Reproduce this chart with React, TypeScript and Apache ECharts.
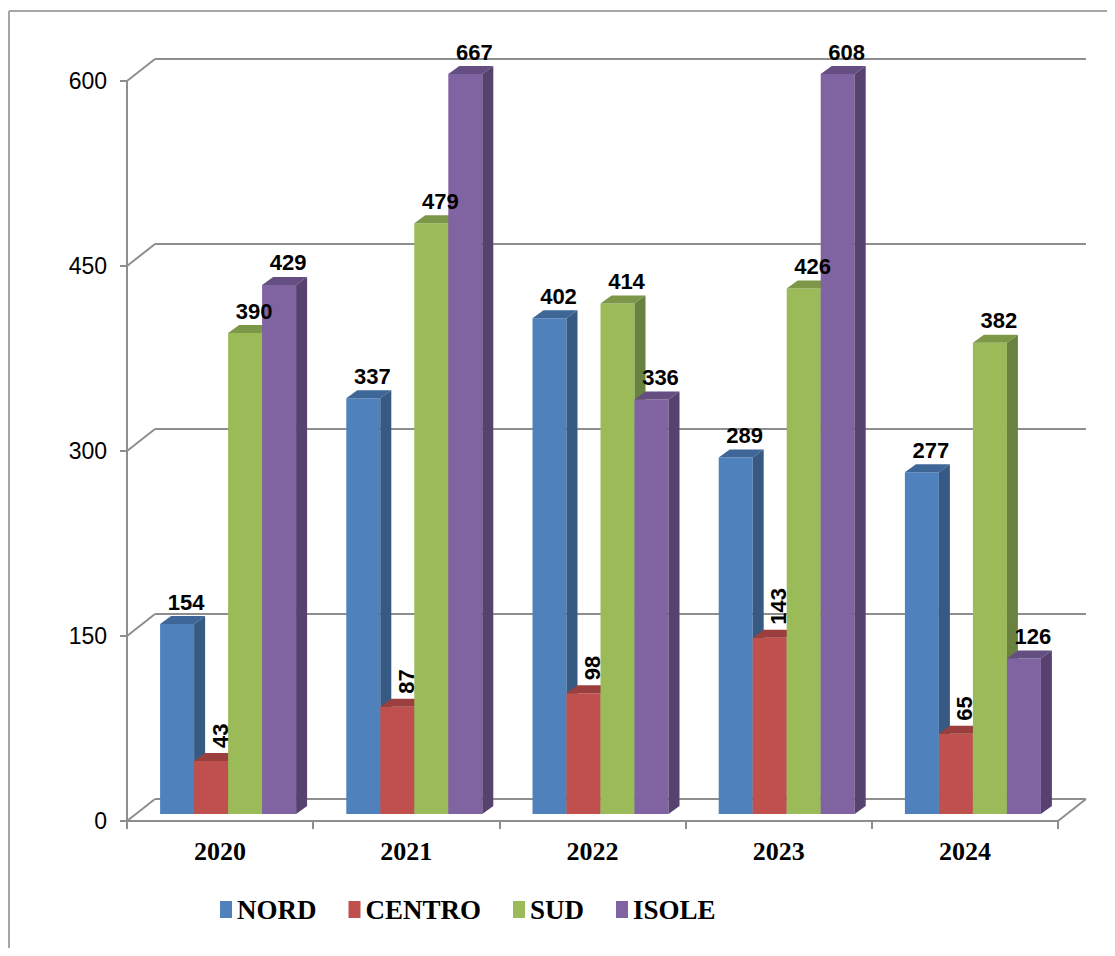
import React, { useEffect, useRef } from "react";
import * as echarts from "echarts";

const categories = ["2020", "2021", "2022", "2023", "2024"];
const seriesNames = ["NORD", "CENTRO", "SUD", "ISOLE"];
const nordValues = [154, 337, 402, 289, 277];
const centroValues = [43, 87, 98, 143, 65];
const sudValues = [390, 479, 414, 426, 382];
const isoleValues = [429, 667, 336, 608, 126];
const yTicks = [0, 150, 300, 450, 600];

const Y_MAX = 600;
const Y_INTERVAL = 150;

const frontColors = ["#4F81BD", "#C0504D", "#9BBB59", "#8064A2"];
const topColors = ["#3E6797", "#9A3F3D", "#7C9747", "#654F82"];
const sideColors = ["#365A84", "#873735", "#6A8240", "#56416F"];
const rotatedLabel = [false, true, false, false];

// 3D geometry (pixels)
const WALL_DX = 28;
const WALL_DY = -22;
const BAR_SHIFT_X = 8;
const BAR_SHIFT_Y = -7;
const BAR_DX = 11;
const BAR_DY = -8;
const BAR_FRAC = 0.1826;
const GRID_COLOR = "#8E8E8E";

export default function App() {
  const ref = useRef<HTMLDivElement>(null);

  useEffect(() => {
    if (!ref.current) return;
    const chart = echarts.init(ref.current, undefined, { renderer: "svg" });
    const allValues = [nordValues, centroValues, sudValues, isoleValues];

    const makeBarRender = (si: number) => (params: any, api: any) => {
      const cat = api.value(0);
      const v = api.value(1);
      const vc = Math.min(v, Y_MAX);
      const topPt = api.coord([cat, vc]);
      const basePt = api.coord([cat, 0]);
      const catW = api.size([1, 0])[0];
      const bw = catW * BAR_FRAC;
      const x0 = topPt[0] - 2 * bw + si * bw + BAR_SHIFT_X;
      const yTop = topPt[1] + BAR_SHIFT_Y;
      const yBot = basePt[1] + BAR_SHIFT_Y;
      const children: any[] = [
        {
          type: "rect",
          shape: { x: x0, y: yTop, width: bw, height: yBot - yTop },
          style: { fill: frontColors[si] },
        },
        {
          type: "polygon",
          shape: {
            points: [
              [x0, yTop],
              [x0 + BAR_DX, yTop + BAR_DY],
              [x0 + bw + BAR_DX, yTop + BAR_DY],
              [x0 + bw, yTop],
            ],
          },
          style: { fill: topColors[si] },
        },
        {
          type: "polygon",
          shape: {
            points: [
              [x0 + bw, yTop],
              [x0 + bw + BAR_DX, yTop + BAR_DY],
              [x0 + bw + BAR_DX, yBot + BAR_DY],
              [x0 + bw, yBot],
            ],
          },
          style: { fill: sideColors[si] },
        },
      ];
      const cx = x0 + bw / 2 + 9;
      const labelStyle = {
        text: String(v),
        fontFamily: "Liberation Sans",
        fontWeight: "bold",
        fontSize: 22,
        fill: "#000",
      };
      if (rotatedLabel[si]) {
        children.push({
          type: "text",
          x: cx,
          y: yTop - 13,
          rotation: Math.PI / 2,
          z2: 100,
          style: { ...labelStyle, align: "left", verticalAlign: "middle" },
        });
      } else {
        children.push({
          type: "text",
          x: cx,
          y: yTop - 11,
          z2: 100,
          style: { ...labelStyle, align: "center", verticalAlign: "bottom" },
        });
      }
      return { type: "group", children };
    };

    const wallRender = (params: any, api: any) => {
      const v = api.value(1);
      const cs = params.coordSys;
      const y = api.coord([0, v])[1];
      const left = cs.x;
      const right = cs.x + cs.width;
      const lineStyle = { stroke: GRID_COLOR, lineWidth: 2 };
      const children: any[] = [
        {
          type: "line",
          shape: { x1: left, y1: y, x2: left + WALL_DX, y2: y + WALL_DY },
          style: lineStyle,
        },
        {
          type: "line",
          shape: { x1: left + WALL_DX, y1: y + WALL_DY, x2: right + WALL_DX, y2: y + WALL_DY },
          style: lineStyle,
        },
      ];
      if (v === 0) {
        children.push({
          type: "line",
          shape: { x1: right, y1: y, x2: right + WALL_DX, y2: y + WALL_DY },
          style: lineStyle,
        });
      }
      return { type: "group", children };
    };

    const borderStyle = { stroke: "#A6A6A6", lineWidth: 2 };
    const option: any = {
      animation: false,
      backgroundColor: "#fff",
      grid: { left: 119, right: 49, top: 73, bottom: 135, containLabel: false },
      graphic: [
        {
          type: "line",
          shape: { x1: 1, y1: 3, x2: 1, y2: 2000 },
          style: borderStyle,
          silent: true,
        },
        {
          type: "line",
          shape: { x1: 1, y1: 3, x2: 2000, y2: 3 },
          style: borderStyle,
          silent: true,
        },
      ],
      legend: {
        data: seriesNames,
        left: 207,
        top: 883,
        padding: 5,
        icon: "rect",
        itemWidth: 12,
        itemHeight: 17,
        itemGap: 32,
        textStyle: {
          fontFamily: "Liberation Serif",
          fontWeight: "bold",
          fontSize: 27,
          color: "#000",
        },
      },
      xAxis: {
        type: "category",
        data: categories,
        boundaryGap: true,
        axisLine: { show: true, lineStyle: { color: GRID_COLOR, width: 2 } },
        axisTick: { show: true, length: 8, lineStyle: { color: GRID_COLOR, width: 2 } },
        axisLabel: {
          margin: 17,
          fontFamily: "Liberation Serif",
          fontWeight: "bold",
          fontSize: 26,
          color: "#000",
        },
        splitLine: { show: false },
      },
      yAxis: {
        type: "value",
        min: 0,
        max: Y_MAX,
        interval: Y_INTERVAL,
        axisLine: { show: true, lineStyle: { color: GRID_COLOR, width: 2 } },
        axisTick: { show: true, length: 7, lineStyle: { color: GRID_COLOR, width: 2 } },
        axisLabel: {
          margin: 20,
          fontFamily: "Liberation Sans",
          fontSize: 23,
          color: "#000",
        },
        splitLine: { show: false },
      },
      series: [
        {
          name: "walls",
          type: "custom",
          silent: true,
          z: 1,
          renderItem: wallRender,
          encode: { x: 0, y: 1 },
          data: yTicks.map((t) => [0, t]),
        },
        ...seriesNames.map((name, si) => ({
          name,
          type: "custom",
          z: 2,
          itemStyle: { color: frontColors[si] },
          renderItem: makeBarRender(si),
          encode: { x: 0, y: 1 },
          data: allValues[si].map((v, i) => [i, v]),
        })),
      ],
    };
    chart.setOption(option);
    return () => chart.dispose();
  }, []);

  return <div ref={ref} style={{ width: 1099, height: 948, marginBottom: -8 }} />;
}
